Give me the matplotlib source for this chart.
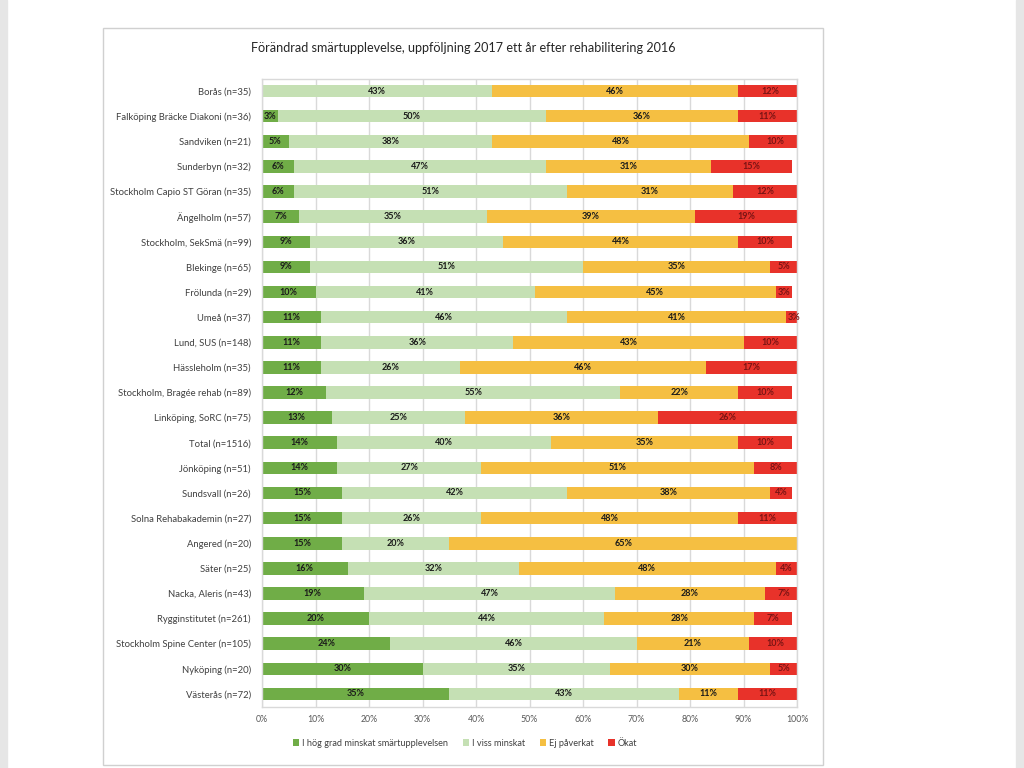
import matplotlib
matplotlib.use("Agg")
import matplotlib.pyplot as plt
from matplotlib.patches import Rectangle

plt.rcParams['font.family'] = ['Lato', 'DejaVu Sans']

title = "Förändrad smärtupplevelse, uppföljning 2017 ett år efter rehabilitering 2016"
categories = [
    "Borås (n=35)", "Falköping Bräcke Diakoni (n=36)", "Sandviken (n=21)", "Sunderbyn (n=32)",
    "Stockholm Capio ST Göran (n=35)", "Ängelholm (n=57)", "Stockholm, SekSmä (n=99)",
    "Blekinge (n=65)", "Frölunda (n=29)", "Umeå (n=37)", "Lund, SUS (n=148)",
    "Hässleholm (n=35)", "Stockholm, Bragée rehab (n=89)", "Linköping, SoRC (n=75)",
    "Total (n=1516)", "Jönköping (n=51)", "Sundsvall (n=26)", "Solna Rehabakademin (n=27)",
    "Angered (n=20)", "Säter (n=25)", "Nacka, Aleris (n=43)", "Rygginstitutet (n=261)",
    "Stockholm Spine Center (n=105)", "Nyköping (n=20)", "Västerås (n=72)",
]
hog = [0, 3, 5, 6, 6, 7, 9, 9, 10, 11, 11, 11, 12, 13, 14, 14, 15, 15, 15, 16, 19, 20, 24, 30, 35]
viss = [43, 50, 38, 47, 51, 35, 36, 51, 41, 46, 36, 26, 55, 25, 40, 27, 42, 26, 20, 32, 47, 44, 46, 35, 43]
ej = [46, 36, 48, 31, 31, 39, 44, 35, 45, 41, 43, 46, 22, 36, 35, 51, 38, 48, 65, 48, 28, 28, 21, 30, 11]
okat = [12, 11, 10, 15, 12, 19, 10, 5, 3, 3, 10, 17, 10, 26, 10, 8, 4, 11, 0, 4, 7, 7, 10, 5, 11]
series_names = ["I hög grad minskat smärtupplevelsen", "I viss minskat", "Ej påverkat", "Ökat"]
xticks = [0, 10, 20, 30, 40, 50, 60, 70, 80, 90, 100]

colors = ["#70AD47", "#C5E0B4", "#F5BF42", "#E8322A"]
label_colors = ["#1a1a1a", "#1a1a1a", "#1a1a1a", "#7a1414"]

fig = plt.figure(figsize=(10.24, 7.68), dpi=100)
fig.patch.set_facecolor("white")

# page decorations
fig.add_artist(Rectangle((0, 0), 7/1024, 1, transform=fig.transFigure, color="#E6E6E6", zorder=0))
fig.add_artist(Rectangle((1016/1024, 0), 8/1024, 1, transform=fig.transFigure, color="#E6E6E6", zorder=0))
fig.add_artist(Rectangle((103/1024, 1-765/768), 720/1024, 737/768, transform=fig.transFigure,
                         fill=False, edgecolor="#D0D0D0", lw=1.0, zorder=0))

ax = fig.add_axes([262/1024, 1-706.5/768, 535/1024, 628/768])
n = len(categories)
y = list(range(n))
left = [0]*n
for vals, c, lc, name in zip([hog, viss, ej, okat], colors, label_colors, series_names):
    ax.barh(y, vals, left=left, height=0.5, color=c, label=name, zorder=2)
    for i, v in enumerate(vals):
        if v > 0:
            ax.text(left[i] + v/2, i, f"{v}%", ha="center", va="center", fontsize=6.5,
                    fontweight="bold", color=lc, zorder=3)
    left = [l + v for l, v in zip(left, vals)]

ax.set_xlim(0, 100)
ax.set_ylim(n - 0.5, -0.5)
ax.set_yticks(y)
ax.set_yticklabels(categories, fontsize=6.8, color="#404040")
ax.set_xticks(xticks)
ax.set_xticklabels([f"{t}%" for t in xticks], fontsize=6.3, color="#595959")
ax.tick_params(axis="both", length=0, pad=6)
ax.tick_params(axis="y", pad=8)
ax.xaxis.grid(True, color="#D9D9D9", lw=1.0, zorder=0)
ax.set_axisbelow(True)
for s in ax.spines.values():
    s.set_color("#D9D9D9")
    s.set_linewidth(1.0)

fig.text(463/1024, 1-48/768, title, ha="center", va="center", fontsize=9.1, color="#262626")

handles, labels = ax.get_legend_handles_labels()
fig.legend(handles, labels, loc="center", bbox_to_anchor=(465/1024, 1-743/768), ncol=4,
           frameon=False, fontsize=6.6, handlelength=0.7, handleheight=0.7, handletextpad=0.3,
           columnspacing=1.6, labelcolor="#404040")

fig.savefig("out.png", dpi=100)
